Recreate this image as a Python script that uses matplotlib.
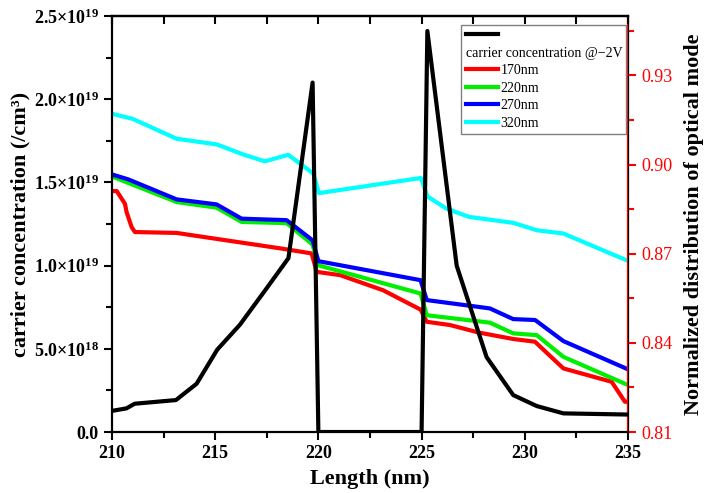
import matplotlib
matplotlib.use('Agg')
import matplotlib.pyplot as plt
import matplotlib.ticker as mticker
from matplotlib.lines import Line2D
import numpy as np

plt.rcParams['font.family'] = ['Liberation Serif', 'DejaVu Serif']
plt.rcParams['mathtext.fontset'] = 'custom'
plt.rcParams['mathtext.rm'] = 'Liberation Serif'
plt.rcParams['mathtext.bf'] = 'Liberation Serif:bold'
plt.rcParams['mathtext.default'] = 'bf'

# carrier concentration @-2V (left axis)
cc_x = [210.0, 210.7, 211.1, 213.1, 214.1, 215.1, 216.2, 217.5, 218.55, 219.72,
        220.0, 225.0, 225.28, 226.7, 228.15, 229.44, 230.58, 231.87, 235.0]
cc_y = [1.27e18, 1.42e18, 1.70e18, 1.92e18, 2.9e18, 4.95e18, 6.45e18, 8.65e18,
        1.045e19, 2.10e19, 0.0, 0.0, 2.41e19, 1.0e19, 4.5e18, 2.22e18, 1.56e18,
        1.12e18, 1.05e18]

# normalized distribution of optical mode (right axis)
x_170 = [210.0, 210.23, 210.63, 210.71, 210.95, 211.11, 213.13, 218.16, 219.67,
         219.92, 221.05, 223.14, 224.95, 225.25, 226.38, 227.75, 229.44, 230.49,
         231.87, 234.21, 234.85, 235.0]
y_170 = [0.8911, 0.8911, 0.8868, 0.8840, 0.8790, 0.8773, 0.8770, 0.8718, 0.8701,
         0.8639, 0.8628, 0.8577, 0.8512, 0.8471, 0.8460, 0.8435, 0.8413, 0.8404,
         0.8314, 0.8269, 0.8202, 0.8202]

x_220 = [210.0, 213.13, 215.07, 216.28, 218.46, 219.72, 220.0, 224.95, 225.25,
         228.31, 229.44, 230.58, 231.87, 235.0]
y_220 = [0.8960, 0.8874, 0.8855, 0.8807, 0.8803, 0.8731, 0.8661, 0.8566, 0.8493,
         0.8468, 0.8432, 0.8426, 0.8353, 0.8258]

x_270 = [210.0, 210.8, 213.13, 215.07, 216.28, 218.46, 219.72, 220.0, 224.95,
         225.25, 228.31, 229.44, 230.5, 231.87, 235.0]
y_270 = [0.8967, 0.8950, 0.8883, 0.8866, 0.8818, 0.8813, 0.8745, 0.8675, 0.8611,
         0.8544, 0.8516, 0.8480, 0.8477, 0.8406, 0.8311]

x_320 = [210.0, 211.0, 213.13, 215.07, 216.36, 217.41, 218.54, 219.75, 220.03,
         224.97, 225.28, 226.2, 227.3, 229.44, 230.58, 231.87, 235.0]
y_320 = [0.9171, 0.9154, 0.9087, 0.9068, 0.9034, 0.9011, 0.9033, 0.8970, 0.8904,
         0.8955, 0.8893, 0.8852, 0.8824, 0.8804, 0.8779, 0.8768, 0.8676]

series = [
    (x_170, y_170, '#ff0000', '170nm'),
    (x_220, y_220, '#00ee00', '220nm'),
    (x_270, y_270, '#0000ff', '270nm'),
    (x_320, y_320, '#00ffff', '320nm'),
]


def sci_label(v, pos):
    if v < 1e15:
        return '0.0' if v > -1e15 else ''
    e = int(np.floor(np.log10(v) + 1e-9))
    m = v / 10 ** e
    return '%.1f×$10^{%d}$' % (m, e)


fig = plt.figure(figsize=(7.06, 4.93), dpi=100)
ax = fig.add_axes([0.1586, 0.1237, 0.7309, 0.8438])
ax2 = ax.twinx()

ax.plot(cc_x, cc_y, color='black', lw=3)
for xs, ys, c, lab in series:
    ax2.plot(xs, ys, color=c, lw=3)

ax.set_zorder(ax2.get_zorder() + 1)
ax.patch.set_visible(False)

ax.set_xlim(210, 235)
ax.set_ylim(0, 2.5e19)
ax2.set_ylim(0.81, 0.95)

ax.xaxis.set_major_locator(mticker.MultipleLocator(5))
ax.xaxis.set_minor_locator(mticker.MultipleLocator(2.5))
ax.yaxis.set_major_locator(mticker.MultipleLocator(5e18))
ax.yaxis.set_minor_locator(mticker.MultipleLocator(2.5e18))
ax.yaxis.set_major_formatter(mticker.FuncFormatter(sci_label))
ax2.yaxis.set_major_locator(mticker.FixedLocator([0.81, 0.84, 0.87, 0.90, 0.93]))
ax2.yaxis.set_minor_locator(mticker.MultipleLocator(0.015))
ax2.yaxis.set_major_formatter(mticker.FormatStrFormatter('%.2f'))

for s in ['left', 'bottom', 'top']:
    ax.spines[s].set_linewidth(1.6)
ax2.spines['right'].set_color('red')
ax2.spines['right'].set_linewidth(1.6)
for s in ['left', 'bottom', 'top']:
    ax2.spines[s].set_visible(False)

ax.tick_params(axis='both', which='major', direction='out', length=6, width=1.5,
               labelsize=13)
ax.tick_params(axis='both', which='minor', direction='out', length=4, width=1.5)
for lbl in ax.get_xticklabels() + ax.get_yticklabels():
    lbl.set_fontweight('bold')

# inward ticks along the top edge
top = ax.secondary_xaxis('top')
top.xaxis.set_major_locator(mticker.MultipleLocator(5))
top.xaxis.set_minor_locator(mticker.MultipleLocator(2.5))
top.tick_params(which='both', direction='in', length=6, width=1.5, labeltop=False)
top.spines['top'].set_linewidth(1.6)

ax2.tick_params(axis='y', which='major', direction='out', length=6, width=1.5,
                colors='red', labelsize=13)
ax2.tick_params(axis='y', which='minor', direction='out', length=4, width=1.5,
                colors='red')

ax.set_xlabel('Length (nm)', fontsize=16, fontweight='bold', labelpad=5)
ax.set_ylabel('carrier concentration (/cm³)', fontsize=16, fontweight='bold',
              labelpad=2)
ax2.set_ylabel('Normalized distribution of optical mode', fontsize=16,
               fontweight='bold', labelpad=8)

handles = [Line2D([], [], color='black', lw=3),
           Line2D([], [], color='none', lw=3)]
labels = ['', 'carrier concentration @−2V']
for xs, ys, c, lab in series:
    handles.append(Line2D([], [], color=c, lw=3))
    labels.append(lab)

leg = ax.legend(handles, labels, loc='upper right', bbox_to_anchor=(0.997, 0.978),
                borderaxespad=0, fontsize=10, frameon=True, fancybox=False,
                edgecolor='#808080', framealpha=1, handlelength=2.3,
                handletextpad=0.2, labelspacing=0.32, borderpad=0.3)
leg.get_frame().set_linewidth(1.0)
# the text-only row: drop its handle so the text starts at the left edge
column = leg._legend_handle_box.get_children()[0]
text_row = column.get_children()[1]
text_row.get_children()[0].width = 0
text_row.sep = 0

fig.savefig('out.png', dpi=100)
